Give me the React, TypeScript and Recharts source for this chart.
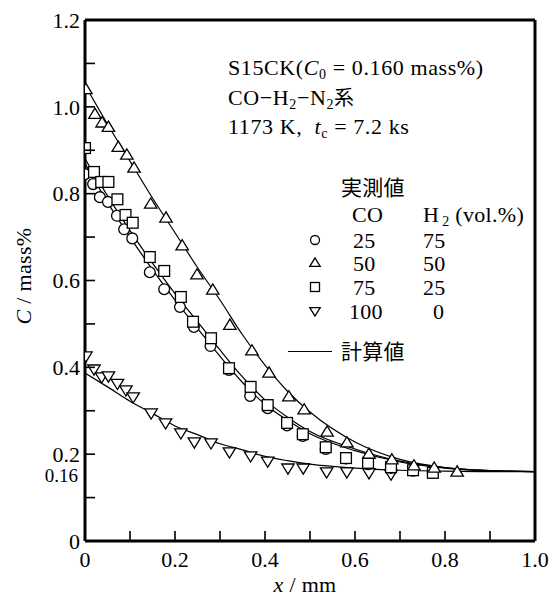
import { ComposedChart, Line, Scatter, XAxis, YAxis } from "recharts"

// measured points (x / mm, C / mass%)
const co25X = [0, 0.018, 0.033, 0.051, 0.071, 0.087, 0.105, 0.144, 0.176, 0.211, 0.242, 0.279, 0.32, 0.367, 0.406, 0.449, 0.484, 0.535, 0.58, 0.629, 0.68, 0.729, 0.773]
const co25Y = [0.845, 0.822, 0.792, 0.781, 0.749, 0.718, 0.697, 0.619, 0.58, 0.539, 0.493, 0.449, 0.394, 0.334, 0.306, 0.266, 0.242, 0.212, 0.19, 0.177, 0.168, 0.162, 0.157]

const co50X = [0.002, 0.022, 0.038, 0.052, 0.074, 0.093, 0.109, 0.146, 0.18, 0.216, 0.249, 0.284, 0.322, 0.371, 0.409, 0.453, 0.487, 0.538, 0.582, 0.631, 0.682, 0.731, 0.776, 0.827]
const co50Y = [1.04, 0.983, 0.963, 0.953, 0.907, 0.889, 0.859, 0.776, 0.744, 0.68, 0.613, 0.578, 0.497, 0.438, 0.387, 0.332, 0.302, 0.251, 0.226, 0.2, 0.187, 0.173, 0.168, 0.159]

const co75X = [0, 0.02, 0.036, 0.052, 0.072, 0.09, 0.106, 0.144, 0.176, 0.213, 0.24, 0.28, 0.32, 0.368, 0.406, 0.449, 0.484, 0.535, 0.58, 0.629, 0.68, 0.729, 0.773]
const co75Y = [0.905, 0.85, 0.827, 0.827, 0.787, 0.751, 0.733, 0.654, 0.622, 0.562, 0.505, 0.467, 0.398, 0.355, 0.313, 0.272, 0.246, 0.216, 0.191, 0.18, 0.17, 0.163, 0.157]

const co100X = [0.002, 0.02, 0.037, 0.052, 0.072, 0.091, 0.107, 0.147, 0.179, 0.213, 0.243, 0.28, 0.321, 0.368, 0.406, 0.451, 0.485, 0.537, 0.582, 0.631, 0.68]
const co100Y = [0.426, 0.396, 0.378, 0.38, 0.363, 0.348, 0.332, 0.295, 0.272, 0.249, 0.228, 0.226, 0.205, 0.196, 0.184, 0.168, 0.168, 0.159, 0.159, 0.157, 0.154]

// calculated curves
const calcX = [0, 0.05, 0.1, 0.15, 0.2, 0.25, 0.3, 0.35, 0.4, 0.45, 0.5, 0.6, 0.7, 0.8, 0.9, 1.0]
const calc25 = [0.87, 0.78, 0.7, 0.625, 0.555, 0.49, 0.425, 0.365, 0.315, 0.278, 0.247, 0.208, 0.182, 0.168, 0.162, 0.16]
const calc50 = [1.05, 0.96, 0.875, 0.79, 0.71, 0.63, 0.555, 0.475, 0.405, 0.345, 0.297, 0.228, 0.188, 0.169, 0.162, 0.16]
const calc75 = [0.88, 0.795, 0.715, 0.64, 0.57, 0.505, 0.44, 0.378, 0.325, 0.285, 0.252, 0.212, 0.184, 0.169, 0.162, 0.16]
const calc100 = [0.387, 0.355, 0.322, 0.294, 0.265, 0.245, 0.224, 0.21, 0.195, 0.185, 0.177, 0.168, 0.163, 0.161, 0.16, 0.16]

const xTicks = [0, 0.1, 0.2, 0.3, 0.4, 0.5, 0.6, 0.7, 0.8, 0.9, 1.0]
const yTicks = [0, 0.1, 0.16, 0.2, 0.3, 0.4, 0.5, 0.6, 0.7, 0.8, 0.9, 1.0, 1.1, 1.2]
const xLabels: Record<string, string> = { "0": "0", "0.2": "0.2", "0.4": "0.4", "0.6": "0.6", "0.8": "0.8", "1": "1.0" }
const yLabels: Record<string, string> = { "0": "0", "0.2": "0.2", "0.4": "0.4", "0.6": "0.6", "0.8": "0.8", "1": "1.0", "1.2": "1.2" }

const FONT = "'Liberation Serif', 'Times New Roman', 'Noto Sans CJK JP', serif"
const JP = "'Noto Sans CJK JP', sans-serif"
const INK = "#000"
const TICK = 10
const TW = 1.6

const pts = (xs: number[], ys: number[]) => xs.map((x, i) => ({ x, y: ys[i] }))

type Kind = "circle" | "tri" | "square" | "itri"

function Marker({ kind, cx, cy, s }: { kind: Kind; cx: number; cy: number; s: number }) {
  const p = { fill: "#fff", stroke: "#000", strokeWidth: 1.3 }
  if (kind === "circle") return <circle cx={cx} cy={cy} r={s * 0.45} {...p} />
  if (kind === "square") return <rect x={cx - s * 0.45} y={cy - s * 0.45} width={s * 0.9} height={s * 0.9} {...p} />
  const h = s * 0.85
  const w = s * 0.52
  if (kind === "tri")
    return <polygon points={`${cx},${cy - h * 0.6} ${cx - w},${cy + h * 0.4} ${cx + w},${cy + h * 0.4}`} {...p} />
  return <polygon points={`${cx},${cy + h * 0.6} ${cx - w},${cy - h * 0.4} ${cx + w},${cy - h * 0.4}`} {...p} />
}

const shape = (kind: Kind) => (props: any) => <Marker kind={kind} cx={props.cx} cy={props.cy} s={12} />

const labelStyle = { fontFamily: FONT, fontSize: 22 }

// inward tick marks
const BottomTick = (props: any) => {
  const { x, y, payload } = props
  const lab = xLabels[String(payload.value)]
  return (
    <g>
      <rect x={x - TW / 2} y={y - TICK} width={TW} height={TICK} fill={INK} />
      {lab && (
        <text x={x} y={y + 26} textAnchor="middle" style={labelStyle} fill="#000">
          {lab}
        </text>
      )}
    </g>
  )
}

const TopTick = (props: any) => {
  const { x, y } = props
  return <rect x={x - TW / 2} y={y} width={TW} height={TICK} fill={INK} />
}

const LeftTick = (props: any) => {
  const { x, y, payload } = props
  const v = payload.value
  if (v === 0.16)
    return (
      <text x={x - 7} y={y} dy="0.55em" textAnchor="end" style={{ fontFamily: FONT, fontSize: 19 }} fill="#000">
        0.16
      </text>
    )
  const lab = yLabels[String(v)]
  return (
    <g>
      <rect x={x} y={y - TW / 2} width={TICK} height={TW} fill={INK} />
      {lab && (
        <text x={x - 5} y={y} dy="0.35em" textAnchor="end" style={labelStyle} fill="#000">
          {lab}
        </text>
      )}
    </g>
  )
}

const RightTick = (props: any) => {
  const { x, y, payload } = props
  if (payload.value === 0.16) return <g />
  return <rect x={x - TICK} y={y - TW / 2} width={TICK} height={TW} fill={INK} />
}

function LegendGlyph({ kind }: { kind: Kind }) {
  return (
    <svg width={14} height={14} style={{ display: "block" }}>
      <Marker kind={kind} cx={7} cy={7} s={10} />
    </svg>
  )
}

const legendRows: { kind: Kind; co: string; h2: string; top: number }[] = [
  { kind: "circle", co: "25", h2: "75", top: 240 },
  { kind: "tri", co: "50", h2: "50", top: 263 },
  { kind: "square", co: "75", h2: "25", top: 287 },
  { kind: "itri", co: "100", h2: "0", top: 311 },
]

export default function App() {
  const txt = { position: "absolute" as const, fontFamily: FONT, fontSize: 22, color: "#000", whiteSpace: "nowrap" as const, lineHeight: 1, letterSpacing: 0.3 }
  const sub = { fontSize: 14, verticalAlign: "-0.25em" }
  const frame = { stroke: INK, strokeWidth: 3 }
  return (
    <div style={{ position: "absolute", left: 0, top: 0, width: 553, height: 603, background: "#fff" }}>
      <ComposedChart width={553} height={603} margin={{ top: 19, right: 17, bottom: 22, left: 25 }}>
        <XAxis xAxisId="b" type="number" dataKey="x" domain={[0, 1]} ticks={xTicks} interval={0} allowDataOverflow
          height={40} tickSize={0} tickMargin={0} axisLine={frame} tickLine={false} tick={BottomTick} />
        <XAxis xAxisId="t" orientation="top" type="number" dataKey="x" domain={[0, 1]} ticks={xTicks} interval={0}
          height={1} tickSize={0} tickMargin={0} axisLine={frame} tickLine={false} tick={TopTick} />
        <YAxis yAxisId="l" type="number" dataKey="y" domain={[0, 1.2]} ticks={yTicks} interval={0} allowDataOverflow
          width={60} tickSize={0} tickMargin={0} axisLine={frame} tickLine={false} tick={LeftTick} />
        <YAxis yAxisId="r" orientation="right" type="number" dataKey="y" domain={[0, 1.2]} ticks={yTicks} interval={0}
          width={1} tickSize={0} tickMargin={0} axisLine={frame} tickLine={false} tick={RightTick} />

        <Line xAxisId="b" yAxisId="l" data={pts(calcX, calc25)} dataKey="y" type="monotone" stroke="#000" strokeWidth={1.2} dot={false} isAnimationActive={false} />
        <Line xAxisId="b" yAxisId="l" data={pts(calcX, calc50)} dataKey="y" type="monotone" stroke="#000" strokeWidth={1.2} dot={false} isAnimationActive={false} />
        <Line xAxisId="b" yAxisId="l" data={pts(calcX, calc75)} dataKey="y" type="monotone" stroke="#000" strokeWidth={1.2} dot={false} isAnimationActive={false} />
        <Line xAxisId="b" yAxisId="l" data={pts(calcX, calc100)} dataKey="y" type="monotone" stroke="#000" strokeWidth={1.2} dot={false} isAnimationActive={false} />

        <Scatter xAxisId="b" yAxisId="l" data={pts(co100X, co100Y)} shape={shape("itri")} isAnimationActive={false} />
        <Scatter xAxisId="b" yAxisId="l" data={pts(co25X, co25Y)} shape={shape("circle")} isAnimationActive={false} />
        <Scatter xAxisId="b" yAxisId="l" data={pts(co75X, co75Y)} shape={shape("square")} isAnimationActive={false} />
        <Scatter xAxisId="b" yAxisId="l" data={pts(co50X, co50Y)} shape={shape("tri")} isAnimationActive={false} />
      </ComposedChart>

      {/* annotation */}
      <div style={{ ...txt, left: 228, top: 57, letterSpacing: 0.6 }}>
        S15CK(<i>C</i><sub style={sub}>0</sub> = 0.160 mass%)
      </div>
      <div style={{ ...txt, left: 228, top: 87, letterSpacing: 0.6 }}>
        CO−H<sub style={sub}>2</sub>−N<sub style={sub}>2</sub><span style={{ fontFamily: JP, fontSize: 20 }}>系</span>
      </div>
      <div style={{ ...txt, left: 228, top: 116, letterSpacing: 0.6 }}>
        1173 K,&nbsp; <i>t</i><sub style={sub}>c</sub> = 7.2 ks
      </div>

      {/* legend */}
      <div style={{ ...txt, left: 341, top: 176, fontFamily: JP, fontSize: 21 }}>実測値</div>
      <div style={{ ...txt, left: 352, top: 204 }}>CO</div>
      <div style={{ ...txt, left: 423, top: 204 }}>
        H<span style={{ fontSize: 14, position: "relative", top: 4, marginLeft: 3 }}>2</span> (vol.%)
      </div>
      {legendRows.map((r) => (
        <div key={r.co}>
          <div style={{ position: "absolute", left: 308, top: r.top - 7 }}>
            <LegendGlyph kind={r.kind} />
          </div>
          <div style={{ ...txt, left: r.co === "100" ? 349 : 353, top: r.top - 10 }}>{r.co}</div>
          <div style={{ ...txt, left: r.h2 === "0" ? 433 : 423, top: r.top - 10 }}>{r.h2}</div>
        </div>
      ))}
      <div style={{ position: "absolute", left: 288, top: 351, width: 44, height: 0, borderTop: "1.3px solid #000" }} />
      <div style={{ ...txt, left: 341, top: 340, fontFamily: JP, fontSize: 21 }}>計算値</div>

      {/* axis titles */}
      <div style={{ ...txt, left: 24, top: 276, transform: "translate(-50%, -50%) rotate(-90deg)" }}>
        <i>C</i> / mass%
      </div>
      <div style={{ ...txt, left: 305, top: 585, transform: "translate(-50%, -50%)" }}>
        <i>x</i> / mm
      </div>
    </div>
  )
}
